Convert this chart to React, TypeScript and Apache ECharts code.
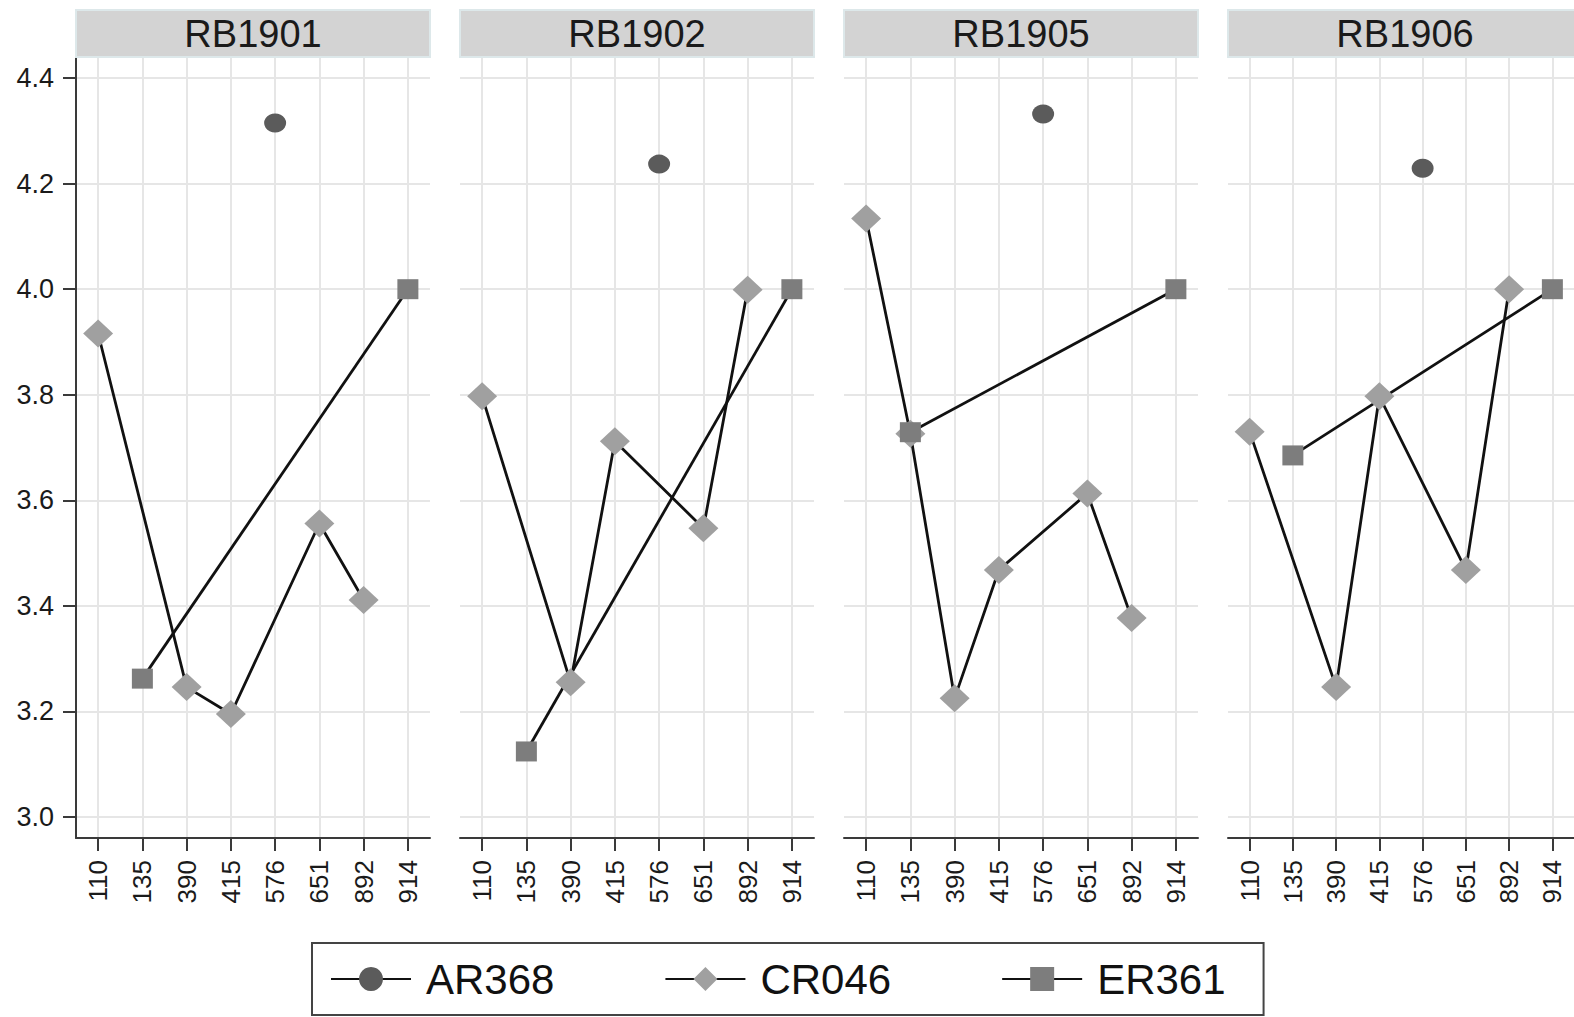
import React, { useEffect, useRef } from "react";
import * as echarts from "echarts";

// ---- data ----
const panels = ["RB1901", "RB1902", "RB1905", "RB1906"];
const categories = ["110", "135", "390", "415", "576", "651", "892", "914"];
const seriesNames = ["AR368", "CR046", "ER361"];

const ar368 = [
  [null, null, null, null, 4.315, null, null, null],
  [null, null, null, null, 4.237, null, null, null],
  [null, null, null, null, 4.332, null, null, null],
  [null, null, null, null, 4.229, null, null, null],
];
const cr046 = [
  [3.916, null, 3.246, 3.195, null, 3.556, 3.411, null],
  [3.797, null, 3.255, 3.712, null, 3.547, 3.999, null],
  [4.134, 3.726, 3.225, 3.468, null, 3.613, 3.377, null],
  [3.73, null, 3.246, 3.797, null, 3.468, 4.0, null],
];
const er361 = [
  [null, 3.262, null, null, null, null, null, 4.0],
  [null, 3.124, null, null, null, null, null, 4.0],
  [null, 3.729, null, null, null, null, null, 4.0],
  [null, 3.685, null, null, null, null, null, 4.0],
];
const yTicksMin = 3.0;
const yTicksMax = 4.4;
const yTickStep = 0.2;
const yRangeMin = 2.96;
const yRangeMax = 4.44;

// ---- style / layout ----
const FONT = "'Liberation Sans', Arial, Helvetica, sans-serif";
const PANEL_LEFT = [76, 460, 844, 1228];
const PANEL_W = 354;
const PLOT_TOP = 57;
const PLOT_H = 781;
const GRID_COLOR = "#e6e6e6";
const AXIS_COLOR = "#3a3a3a";
const LINE_COLOR = "#111111";

const symbolCfg: Record<string, { symbol: string; size: any; color: string }> = {
  AR368: { symbol: "circle", size: [22, 19], color: "#5b5b5b" },
  CR046: { symbol: "diamond", size: [30, 28], color: "#a0a0a0" },
  ER361: { symbol: "rect", size: [21, 20], color: "#7d7d7d" },
};

export default function App() {
  const ref = useRef<HTMLDivElement>(null);
  useEffect(() => {
    if (!ref.current) return;
    const chart = echarts.init(ref.current, null, { renderer: "svg" });

    const span = yRangeMax - yRangeMin;
    const decorTop = PLOT_TOP + ((yRangeMax - yTicksMax) / span) * PLOT_H;
    const decorH = ((yTicksMax - yTicksMin) / span) * PLOT_H;

    const grids: any[] = [];
    const xAxes: any[] = [];
    const yAxes: any[] = [];
    const series: any[] = [];
    const graphics: any[] = [];

    panels.forEach((p, i) => {
      grids.push({ left: PANEL_LEFT[i], top: PLOT_TOP, width: PANEL_W, height: PLOT_H, containLabel: false });
    });
    panels.forEach((p, i) => {
      grids.push({ left: PANEL_LEFT[i], top: decorTop, width: PANEL_W, height: decorH, containLabel: false });
    });

    panels.forEach((p, i) => {
      xAxes.push({
        type: "category",
        gridIndex: i,
        data: categories,
        boundaryGap: true,
        axisLine: { show: true, lineStyle: { color: AXIS_COLOR, width: 2 } },
        axisTick: { show: true, alignWithLabel: true, length: 13, lineStyle: { color: AXIS_COLOR, width: 2 } },
        axisLabel: {
          show: true,
          interval: 0,
          rotate: 90,
          margin: 22,
          fontSize: 26,
          fontFamily: FONT,
          color: "#1a1a1a",
        },
        splitLine: { show: true, alignWithLabel: true, lineStyle: { color: GRID_COLOR, width: 2 } },
      });
      yAxes.push({
        type: "value",
        gridIndex: i,
        min: yRangeMin,
        max: yRangeMax,
        axisLine: { show: i === 0, lineStyle: { color: AXIS_COLOR, width: 2 } },
        axisTick: { show: false },
        axisLabel: { show: false },
        splitLine: { show: false },
      });
    });
    panels.forEach((p, i) => {
      xAxes.push({
        type: "category",
        gridIndex: 4 + i,
        data: categories,
        show: false,
      });
      yAxes.push({
        type: "value",
        gridIndex: 4 + i,
        min: yTicksMin,
        max: yTicksMax,
        interval: yTickStep,
        axisLine: { show: false },
        axisTick: { show: i === 0, length: 13, lineStyle: { color: AXIS_COLOR, width: 2 } },
        axisLabel: {
          show: i === 0,
          margin: 22,
          fontSize: 27,
          fontFamily: FONT,
          color: "#1a1a1a",
          formatter: (v: number) => v.toFixed(1),
        },
        splitLine: { show: true, lineStyle: { color: GRID_COLOR, width: 2 } },
      });
    });

    const dataSets: Record<string, any[][]> = { AR368: ar368, CR046: cr046, ER361: er361 };
    panels.forEach((p, i) => {
      seriesNames.forEach((name) => {
        const c = symbolCfg[name];
        series.push({
          type: "line",
          name,
          xAxisIndex: i,
          yAxisIndex: i,
          data: dataSets[name][i],
          connectNulls: true,
          symbol: c.symbol,
          symbolSize: c.size,
          showSymbol: true,
          showAllSymbol: true,
          itemStyle: { color: c.color },
          lineStyle: { color: LINE_COLOR, width: 2.8 },
          emphasis: { disabled: true },
          silent: true,
        });
      });

      graphics.push({
        type: "rect",
        shape: { x: PANEL_LEFT[i], y: 10, width: PANEL_W, height: 47 },
        style: { fill: "#d3d3d3", stroke: "#dde8ea", lineWidth: 2 },
        z: 10,
      });
      graphics.push({
        type: "text",
        x: PANEL_LEFT[i] + PANEL_W / 2,
        y: 34,
        style: {
          text: p,
          fontSize: 38,
          fontFamily: FONT,
          fill: "#1a1a1a",
          align: "center",
          verticalAlign: "middle",
        },
        z: 11,
      });
    });

    chart.setOption({
      animation: false,
      backgroundColor: "#ffffff",
      grid: grids,
      xAxis: xAxes,
      yAxis: yAxes,
      series,
      graphic: graphics,
      legend: {
        show: true,
        data: seriesNames,
        left: 312,
        top: 943,
        orient: "horizontal",
        itemWidth: 80,
        itemHeight: 30,
        itemGap: 110,
        padding: [15, 38, 15, 18],
        borderColor: "#444444",
        borderWidth: 2,
        textStyle: { fontSize: 42, fontFamily: FONT, color: "#111111", padding: [0, 0, 0, 10] },
        selectedMode: false,
      },
    });

    return () => chart.dispose();
  }, []);

  return (
    <div
      ref={ref}
      style={{ position: "absolute", left: 0, top: 0, width: 1574, height: 1017, background: "#fff" }}
    />
  );
}
